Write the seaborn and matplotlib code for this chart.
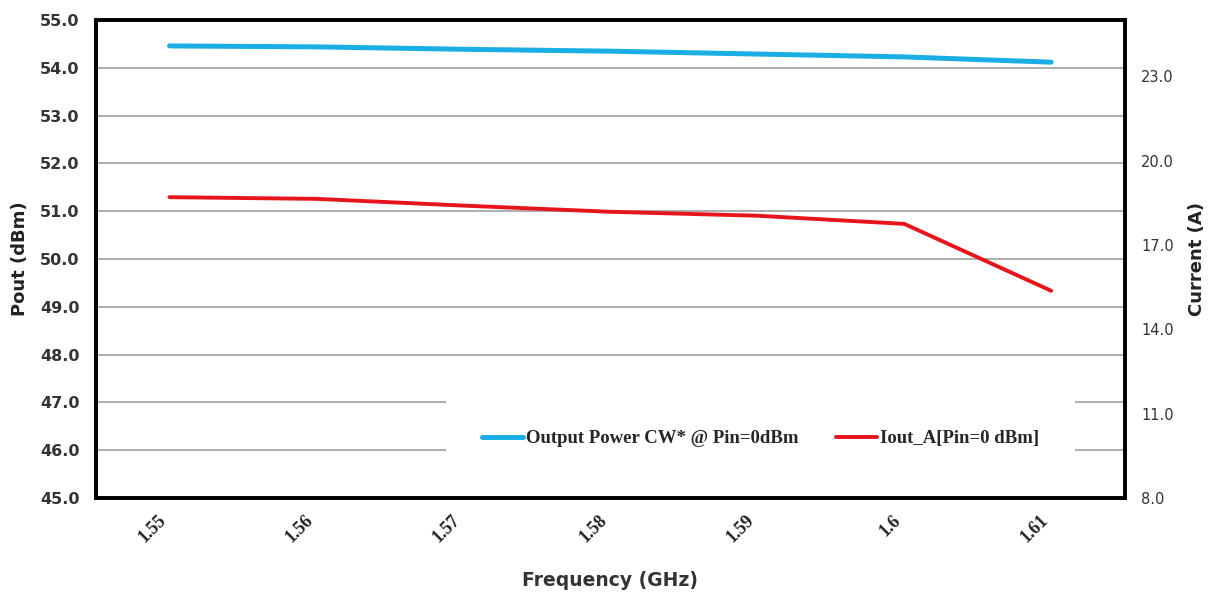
import matplotlib
matplotlib.use("Agg")
import matplotlib.pyplot as plt
import seaborn as sns
import pandas as pd

freq = [1.55, 1.56, 1.57, 1.58, 1.59, 1.60, 1.61]
freq_labels = ["1.55", "1.56", "1.57", "1.58", "1.59", "1.6", "1.61"]
pout = [54.46, 54.44, 54.39, 54.35, 54.29, 54.23, 54.12]
iout = [18.70, 18.64, 18.40, 18.18, 18.04, 17.75, 15.37]

left_ticks = [45, 46, 47, 48, 49, 50, 51, 52, 53, 54, 55]
right_ticks = [8, 11, 14, 17, 20, 23]

sns.set_theme(style="white")
plt.rcParams['font.family'] = ['DejaVu Sans']

df = pd.DataFrame({"freq": freq, "pout": pout, "iout": iout})

fig = plt.figure(figsize=(12.08, 5.92), dpi=100)
ax = fig.add_axes([0.0795, 0.159, 0.8515, 0.807])
ax2 = ax.twinx()

for y in left_ticks[1:-1]:
    ax.axhline(y, color="#a0a0a0", lw=1.2, zorder=0)

sns.lineplot(data=df, x="freq", y="pout", ax=ax, color="#1aaee5", lw=3.6,
             label="Output Power CW* @ Pin=0dBm", legend=False, zorder=3)
sns.lineplot(data=df, x="freq", y="iout", ax=ax2, color="#e8141b", lw=2.8,
             label="Iout_A[Pin=0 dBm]", legend=False, zorder=3)

ax.set_xlim(1.545, 1.615)
ax.set_ylim(45, 55)
ax2.set_ylim(8, 25)
ax.set_yticks(left_ticks)
ax.set_yticklabels([f"{v:.1f}" for v in left_ticks], fontsize=11.5, fontweight="bold", color="#333333")
ax2.set_yticks(right_ticks)
ax2.set_yticklabels([f"{v:.1f}" for v in right_ticks], fontsize=10.5, color="#333333")
ax.set_xticks(freq)
ax.set_xticklabels(freq_labels, rotation=45, fontsize=13, fontweight="bold",
                   family="Liberation Serif", ha="right", va="top", color="#222222")
ax.tick_params(axis="x", pad=10, length=0)
ax.tick_params(axis="y", length=0, pad=12)
ax2.tick_params(axis="y", length=0, pad=12)
for t in ax.get_xticklabels():
    t.set_x(t.get_position()[0])

ax.set_xlabel("Frequency (GHz)", fontsize=13.5, fontweight="bold", color="#333333", labelpad=18)
ax.set_ylabel("Pout (dBm)", fontsize=13, fontweight="bold", color="#222222", labelpad=8)
ax2.set_ylabel("Current (A)", fontsize=13, fontweight="bold", color="#222222", labelpad=10)

for a in (ax, ax2):
    for s in a.spines.values():
        s.set_color("black")
        s.set_linewidth(2.6)
ax2.grid(False)
ax.grid(False)

h1, l1 = ax.get_legend_handles_labels()
h2, l2 = ax2.get_legend_handles_labels()
leg = ax2.legend(h1 + h2, l1 + l2, loc="center", bbox_to_anchor=(0.646, 0.124),
                 ncol=2, frameon=True, fancybox=False, framealpha=1.0,
                 prop={"family": "Liberation Serif", "weight": "bold", "size": 13.5},
                 handlelength=2.2, handletextpad=0.15, columnspacing=2.0,
                 borderpad=1.9, borderaxespad=0)
leg.get_frame().set_edgecolor("white")
leg.get_frame().set_linewidth(0)
leg.set_zorder(2)

fig.savefig("out.png", dpi=100)
